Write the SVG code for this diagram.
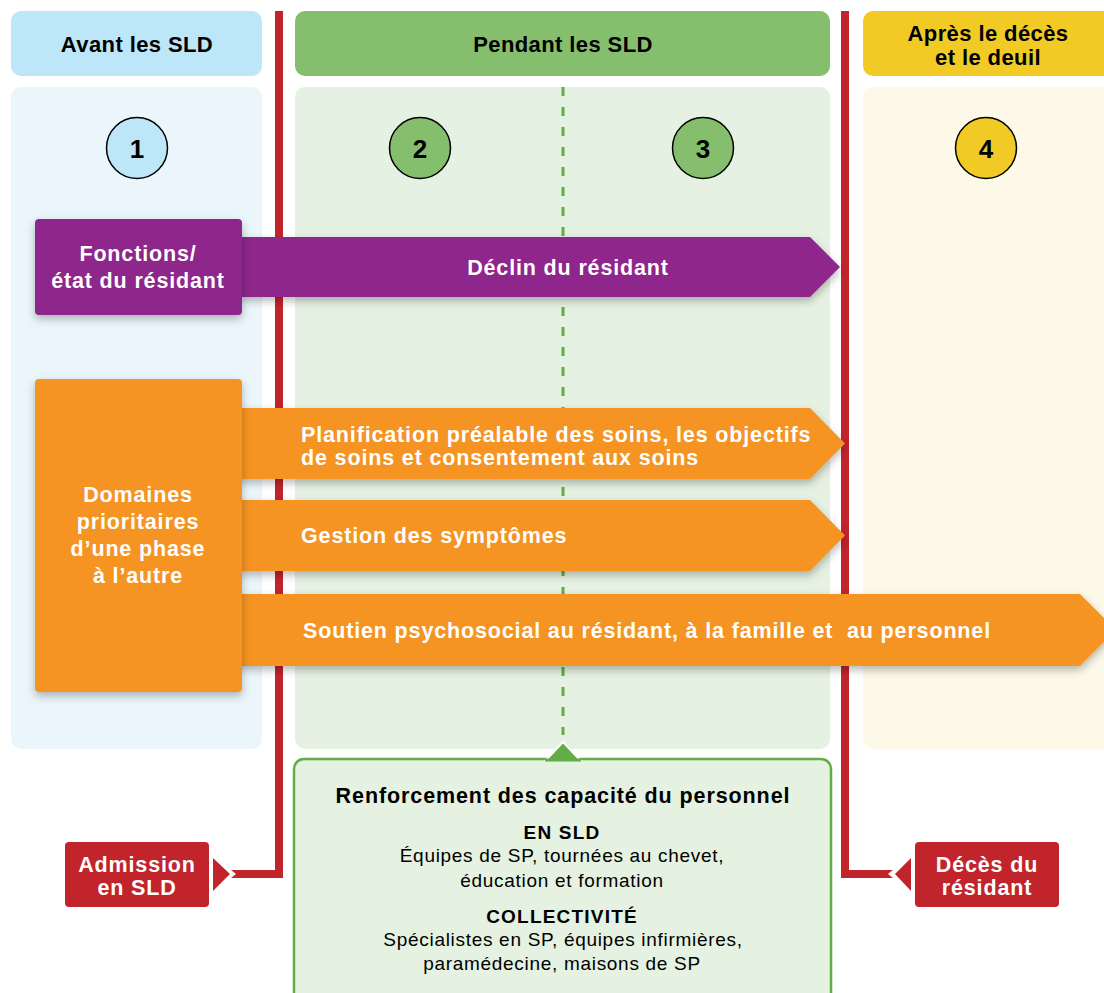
<svg xmlns="http://www.w3.org/2000/svg" width="1104" height="993" viewBox="0 0 1104 993">
<style>
text{font-family:"Liberation Sans",Arial,sans-serif}
.hd{font-size:22px;font-weight:bold;fill:#000;text-anchor:middle;letter-spacing:0.4px}
.num{font-size:26px;font-weight:bold;fill:#000;text-anchor:middle}
.wl{font-size:21.5px;font-weight:bold;fill:#fff;letter-spacing:0.85px}
.wc{font-size:21.5px;font-weight:bold;fill:#fff;text-anchor:middle;letter-spacing:0.85px}
.bt{font-size:21.5px;font-weight:bold;fill:#000;text-anchor:middle;letter-spacing:0.9px}
.bs{font-size:19px;font-weight:bold;fill:#000;text-anchor:middle;letter-spacing:1.2px}
.rt{font-size:19px;fill:#000;text-anchor:middle;letter-spacing:0.7px}
.circ{stroke:#000;stroke-width:1.5}
.red{fill:#c1242b}
</style>
<defs>
<filter id="sh" x="-10%" y="-20%" width="120%" height="160%">
<feDropShadow dx="0" dy="4" stdDeviation="4" flood-color="#000" flood-opacity="0.28"/>
</filter>
</defs>
<g id="columns">
<rect x="11" y="11" width="251" height="65" rx="10" fill="#bee6f9"/>
<rect x="11" y="87" width="251" height="662" rx="10" fill="#eaf6fc"/>
<rect x="295" y="11" width="535" height="65" rx="10" fill="#85bf6e"/>
<rect x="295" y="87" width="535" height="662" rx="10" fill="#e5f1e2"/>
<rect x="863" y="11" width="260" height="65" rx="10" fill="#f2ca25"/>
<rect x="863" y="87" width="260" height="662" rx="10" fill="#fcf9e9"/>
<text class="hd" x="137" y="52">Avant les SLD</text>
<text class="hd" x="563" y="52">Pendant les SLD</text>
<text class="hd" x="988" y="41">Après le décès</text>
<text class="hd" x="988" y="65">et le deuil</text>
</g>
<g id="connectors">
<line x1="563" y1="87" x2="563" y2="735" stroke="#5fae46" stroke-width="3" stroke-dasharray="9 11"/>
<path class="red" d="M275,11 H283 V878 H231 L236,874 L231,870 H275 Z"/>
<polygon class="red" points="213,858 230,874 213,891"/>
<path class="red" d="M841,11 H849 V870 H893 L888,874 L893,878 H841 Z"/>
<polygon class="red" points="911,858 895,874 911,891"/>
</g>
<g id="phase1">
<circle class="circ" cx="137" cy="148" r="30.5" fill="#bee6f9"/>
<text class="num" x="137" y="158">1</text>
</g>
<g id="phase2">
<circle class="circ" cx="420" cy="148" r="30.5" fill="#85bf6e"/>
<text class="num" x="420" y="158">2</text>
</g>
<g id="phase3">
<circle class="circ" cx="703" cy="148" r="30.5" fill="#85bf6e"/>
<text class="num" x="703" y="158">3</text>
</g>
<g id="phase4">
<circle class="circ" cx="986" cy="148" r="30.5" fill="#f2ca25"/>
<text class="num" x="986" y="158">4</text>
</g>
<g id="declin">
<polygon points="238,237 810,237 840,267 810,297 238,297" fill="#8e268b" filter="url(#sh)"/>
<text class="wc" x="568" y="275">Déclin du résidant</text>
</g>
<g id="fonctions">
<rect x="35" y="219" width="207" height="96" rx="4" fill="#8e268b" filter="url(#sh)"/>
<text class="wc" x="138" y="261">Fonctions/</text>
<text class="wc" x="138" y="288">état du résidant</text>
</g>
<g id="planification">
<polygon points="238,408 810,408 845,443.5 810,479 238,479" fill="#f59420" filter="url(#sh)"/>
<text class="wl" x="301" y="442">Planification préalable des soins, les objectifs</text>
<text class="wl" x="301" y="465">de soins et consentement aux soins</text>
</g>
<g id="symptomes">
<polygon points="238,500 810,500 845,535.5 810,571 238,571" fill="#f59420" filter="url(#sh)"/>
<text class="wl" x="301" y="543">Gestion des symptômes</text>
</g>
<g id="soutien">
<polygon points="238,594 1080,594 1116,630 1080,666 238,666" fill="#f59420" filter="url(#sh)"/>
<text class="wl" x="303" y="638" xml:space="preserve">Soutien psychosocial au résidant, à la famille et  au personnel</text>
</g>
<g id="domaines">
<rect x="35" y="379" width="207" height="313" rx="4" fill="#f59420" filter="url(#sh)"/>
<text class="wc" x="138" y="502">Domaines</text>
<text class="wc" x="138" y="529">prioritaires</text>
<text class="wc" x="138" y="556">d’une phase</text>
<text class="wc" x="138" y="583">à l’autre</text>
</g>
<g id="renforcement">
<rect x="294" y="759" width="537" height="250" rx="10" fill="#e5f1e1" stroke="#62ad46" stroke-width="2.5"/>
<polygon points="546,760 563,742 580,760" fill="#62ad46" stroke="#fff" stroke-width="2"/>
<rect x="545" y="758.5" width="36" height="3" fill="#62ad46"/>
<text class="bt" x="563" y="803">Renforcement des capacité du personnel</text>
<text class="bs" x="562" y="839">EN SLD</text>
<text class="rt" x="562" y="862">Équipes de SP, tournées au chevet,</text>
<text class="rt" x="562" y="887">éducation et formation</text>
<text class="bs" x="562" y="923">COLLECTIVITÉ</text>
<text class="rt" x="563" y="946">Spécialistes en SP, équipes infirmières,</text>
<text class="rt" x="562" y="970">paramédecine, maisons de SP</text>
</g>
<g id="admission">
<rect class="red" x="65" y="842" width="144" height="65" rx="4"/>
<text class="wc" x="137" y="872">Admission</text>
<text class="wc" x="137" y="895">en SLD</text>
</g>
<g id="deces">
<rect class="red" x="915" y="842" width="144" height="65" rx="4"/>
<text class="wc" x="987" y="872">Décès du</text>
<text class="wc" x="987" y="895">résidant</text>
</g>
</svg>
